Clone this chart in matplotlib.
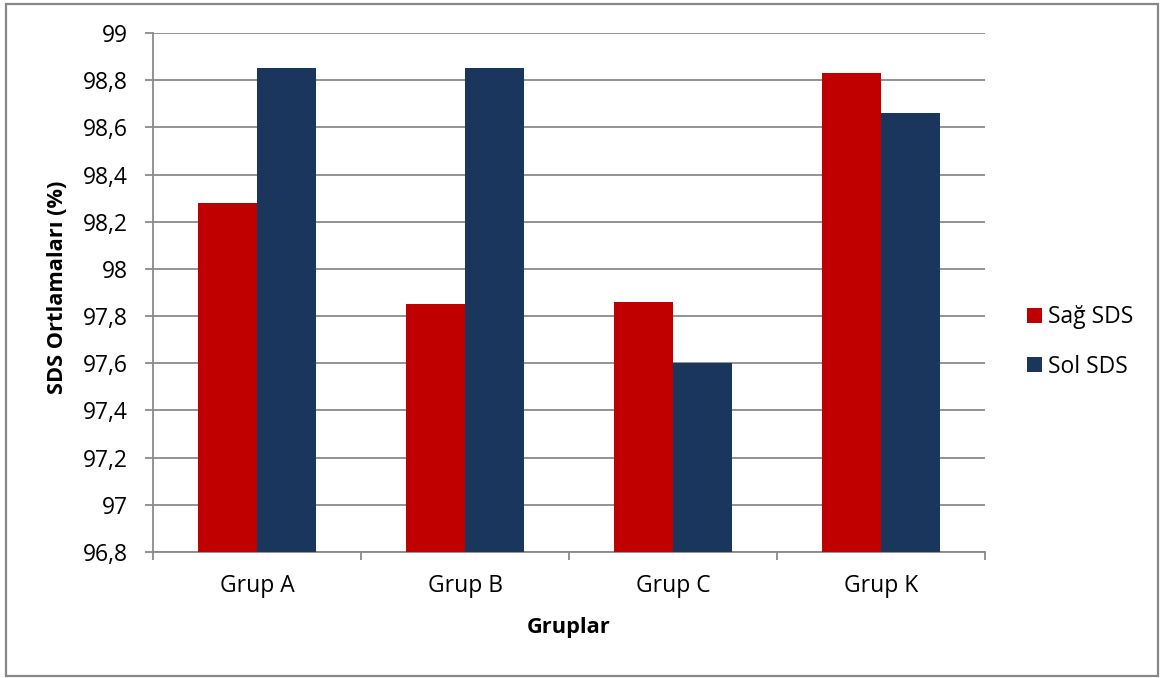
import matplotlib
matplotlib.use("Agg")
import matplotlib.pyplot as plt
from matplotlib.patches import Rectangle
import numpy as np

plt.rcParams['font.family'] = ['Open Sans', 'DejaVu Sans']

groups = ["Grup A", "Grup B", "Grup C", "Grup K"]
sag_sds = [98.28, 97.85, 97.86, 98.83]
sol_sds = [98.85, 98.85, 97.60, 98.66]
series_names = ["Sağ SDS", "Sol SDS"]
y_ticks = [96.8, 97.0, 97.2, 97.4, 97.6, 97.8, 98.0, 98.2, 98.4, 98.6, 98.8, 99.0]

RED = "#C00000"
BLUE = "#1B365D"
GRID = "#8A8A8A"
FS = 16.5
FS_BOLD = 15.7

W, H = 1166, 678
fig = plt.figure(figsize=(W / 100, H / 100), dpi=100)

# outer chart frame
fig.patches.append(Rectangle((6 / W, 1 - 676 / H), (1158 - 6) / W, (676 - 4) / H,
                             transform=fig.transFigure, fill=False,
                             edgecolor="#888888", linewidth=1.6))

ax = fig.add_axes([153 / W, 1 - 552 / H, (985 - 153) / W, (552 - 33) / H])

x = np.arange(len(groups))
bw = 0.286
ax.bar(x - bw / 2, sag_sds, width=bw, color=RED, label=series_names[0], zorder=3)
ax.bar(x + bw / 2, sol_sds, width=bw, color=BLUE, label=series_names[1], zorder=3)

ax.set_xlim(-0.5, len(groups) - 0.5)
ax.set_ylim(96.8, 99.0)
ax.set_yticks(y_ticks)
ax.set_yticklabels([f"{v:g}".replace(".", ",") for v in y_ticks], fontsize=FS)
ax.set_xticks(x)
ax.set_xticklabels(groups, fontsize=FS)
ax.tick_params(axis="x", length=0, pad=16)
# category separators on the x axis
ax.set_xticks(np.arange(len(groups) + 1) - 0.5, minor=True)
ax.tick_params(axis="x", which="minor", length=6, width=1.3, color=GRID, direction="out")
ax.tick_params(axis="y", length=6, width=1.3, color=GRID, direction="out", pad=12)

ax.grid(axis="y", color=GRID, linewidth=1.3, zorder=0)
for side in ["top", "right"]:
    ax.spines[side].set_visible(False)
for side in ["left", "bottom"]:
    ax.spines[side].set_color(GRID)
    ax.spines[side].set_linewidth(1.3)

ax.set_xlabel("Gruplar", fontsize=FS_BOLD, fontweight="bold")
ax.set_ylabel("SDS Ortlamaları (%)", fontsize=FS_BOLD, fontweight="bold")
ax.xaxis.set_label_coords(0.5, -0.125)
ax.yaxis.set_label_coords(-0.1025, 0.51)

leg = fig.legend(loc="center left", bbox_to_anchor=(1027 / W, 1 - 342 / H),
                 frameon=False, fontsize=FS, borderpad=0, borderaxespad=0,
                 handlelength=0.655, handleheight=0.655,
                 handletextpad=0.26, labelspacing=1.1)

fig.savefig("out.png", dpi=100)
